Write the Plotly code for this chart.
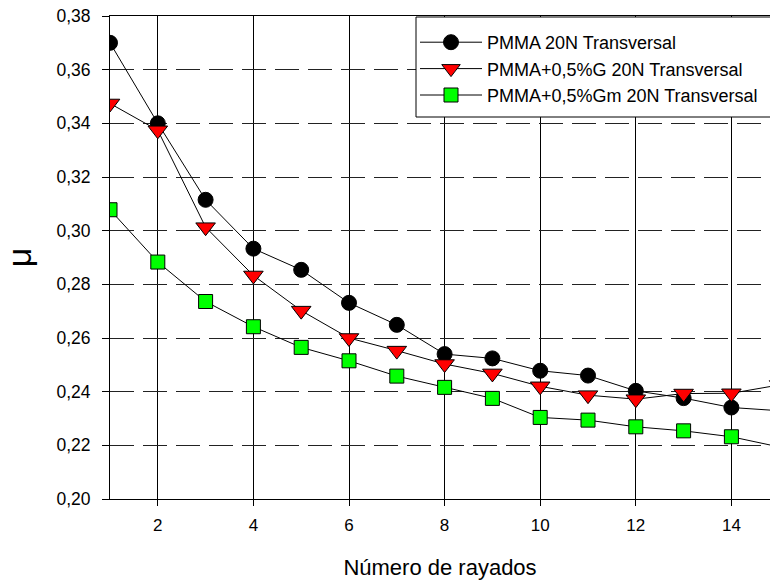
import plotly.graph_objects as go

# Friction coefficient vs. number of scratches (20 N, transversal direction)
rayados = [1, 2, 3, 4, 5, 6, 7, 8, 9, 10, 11, 12, 13, 14, 15]

mu_pmma = [0.370, 0.340, 0.3115, 0.2933, 0.2854, 0.2731, 0.2649, 0.2540,
           0.2524, 0.2478, 0.2460, 0.2403, 0.2376, 0.2341, 0.2329]
mu_pmma_g = [0.3474, 0.3374, 0.3013, 0.2833, 0.2702, 0.2600, 0.2553, 0.2503,
             0.2468, 0.2420, 0.2387, 0.2372, 0.2393, 0.2394, 0.2425]
mu_pmma_gm = [0.3078, 0.2883, 0.2736, 0.2642, 0.2565, 0.2515, 0.2458, 0.2416,
              0.2375, 0.2304, 0.2294, 0.2269, 0.2254, 0.2232, 0.2194]

series_names = ["PMMA 20N Transversal",
                "PMMA+0,5%G 20N Transversal",
                "PMMA+0,5%Gm 20N Transversal"]

y_ticks = [0.20, 0.22, 0.24, 0.26, 0.28, 0.30, 0.32, 0.34, 0.36, 0.38]
y_tick_labels = ["0,20", "0,22", "0,24", "0,26", "0,28", "0,30",
                 "0,32", "0,34", "0,36", "0,38"]
x_ticks = [2, 4, 6, 8, 10, 12, 14]

FONT = "Liberation Sans, Arial, sans-serif"

styles = [
    dict(symbol="circle", size=15, color="#000000"),
    dict(symbol="triangle-down", size=17, color="#FF0000"),
    dict(symbol="square", size=14, color="#00FF00"),
]

fig = go.Figure()
for name, ys, st in zip(series_names, [mu_pmma, mu_pmma_g, mu_pmma_gm], styles):
    fig.add_trace(go.Scatter(
        x=rayados, y=ys, name=name, mode="lines+markers",
        line=dict(color="black", width=1),
        marker=dict(symbol=st["symbol"], size=st["size"], color=st["color"],
                    line=dict(color="black", width=1)),
    ))

# plot area geometry in pixels (used for legend frame placement)
PLOT_L, PLOT_T, PLOT_W, PLOT_H = 110, 16, 660, 483

# legend frame, open on the right side
fig.add_shape(
    type="rect", xref="paper", yref="paper",
    x0=(416 - PLOT_L) / PLOT_W, x1=1.2,
    y0=1 - (117 - PLOT_T) / PLOT_H, y1=1 - (17 - PLOT_T) / PLOT_H,
    fillcolor="white", line=dict(color="black", width=1), layer="above",
)

fig.update_layout(
    width=770, height=580,
    margin=dict(l=PLOT_L, r=0, t=PLOT_T, b=580 - PLOT_T - PLOT_H),
    paper_bgcolor="white", plot_bgcolor="white",
    font=dict(family=FONT, size=17, color="black"),
    showlegend=True,
    legend=dict(
        x=(415 - PLOT_L) / PLOT_W, y=1 - (24 - PLOT_T) / PLOT_H,
        xanchor="left", yanchor="top",
        bgcolor="rgba(0,0,0,0)", borderwidth=0,
        font=dict(family=FONT, size=18, color="black"),
        itemwidth=62,
    ),
)

fig.update_xaxes(
    range=[1, 1 + PLOT_W / 47.8],
    tickvals=x_ticks,
    ticks="outside", ticklen=6, tickcolor="black", tickwidth=1,
    tickfont=dict(size=17), ticklabelstandoff=5,
    showline=True, linecolor="black", linewidth=1, mirror=True,
    showgrid=True, gridcolor="black", gridwidth=1,
    zeroline=False,
    title=dict(text="Número de rayados", font=dict(size=22), standoff=25),
)

fig.update_yaxes(
    range=[0.20, 0.38],
    tickvals=y_ticks, ticktext=y_tick_labels,
    ticks="outside", ticklen=7, tickcolor="black", tickwidth=1,
    tickfont=dict(size=17.5),
    ticklabelstandoff=8,
    showline=True, linecolor="black", linewidth=1,
    showgrid=True, gridcolor="#222222", gridwidth=1, griddash="24px,9px",
    zeroline=False,
    title=dict(text="μ", font=dict(size=34), standoff=17),
)

fig.write_html("out.html")
